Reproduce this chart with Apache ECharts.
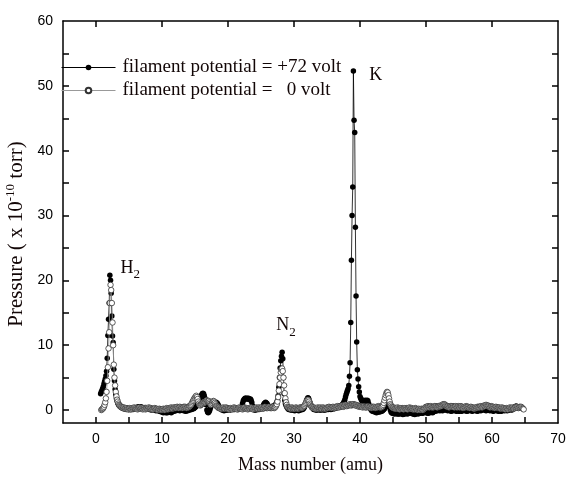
<!DOCTYPE html>
<html>
<head>
<meta charset="utf-8">
<script src="https://cdn.jsdelivr.net/npm/echarts@6/dist/echarts.min.js"></script>
<style>html,body{margin:0;padding:0;background:#fff}#c{width:566px;height:480px}</style>
</head>
<body>
<div id="c"></div>
<script>
// Mass spectrum (x in amu, y in 1e-10 torr), sampled every 0.1 amu
const step = 0.1;
const blackStart = 0.7; // filament potential = +72 volt
const blackVals = [
  2.5, 2.8, 3.0,
  3.3, 3.6, 4.0, 4.4, 4.8, 5.3, 6.0, 8.0, 11.5, 14.0,
  16.5, 20.8, 20.0, 18.0, 14.5, 11.4, 10.4, 6.3, 4.5, 3.2,
  2.4, 1.8, 1.4, 1.1, 0.9, 0.7, 0.6, 0.5, 0.4, 0.4,
  0.3, 0.3, 0.2, 0.3, 0.2, 0.2, 0.1, 0.2, 0.2, 0.1,
  0.1, 0.2, 0.1, 0.1, 0.2, 0.2, 0.1, 0.2, 0.3, 0.2,
  0.3, 0.4, 0.3, 0.4, 0.5, 0.4, 0.3, 0.4, 0.5, 0.4,
  0.3, 0.4, 0.3, 0.2, 0.3, 0.4, 0.3, 0.2, 0.3, 0.2,
  0.2, 0.1, 0.2, 0.1, 0.0, 0.1, 0.2, 0.1, 0.0, 0.1,
  0.0, -0.1, 0.0, 0.1, 0.0, -0.1, -0.2, -0.1, -0.2, -0.3,
  -0.2, -0.3, -0.4, -0.3, -0.2, -0.3, -0.4, -0.3, -0.4, -0.3,
  -0.2, -0.3, -0.2, -0.3, -0.4, -0.3, -0.2, -0.1, -0.2, -0.1,
  0.0, -0.1, 0.0, 0.1, 0.0, 0.1, 0.0, -0.1, 0.0, 0.1,
  0.0, 0.1, 0.0, -0.1, 0.0, -0.1, -0.2, -0.1, 0.0, -0.1,
  0.0, 0.1, 0.0, 0.1, 0.2, 0.1, 0.2, 0.3, 0.2, 0.3,
  0.4, 0.5, 0.6, 0.8, 0.9, 1.1, 1.4, 1.7, 1.9, 2.1,
  2.3, 2.5, 2.6, 2.5, 2.2, 1.8, 1.3, 0.8, 0.0, -0.3,
  -0.4, -0.3, -0.1, 0.2, 0.5, 0.8, 1.0, 1.1, 1.2, 1.1,
  1.2, 1.1, 1.2, 1.1, 1.0, 0.8, 0.6, 0.4, 0.3, 0.2,
  0.1, 0.0, 0.1, 0.0, -0.1, 0.0, 0.1, 0.0, 0.1, 0.0,
  0.1, 0.2, 0.1, 0.0, 0.1, 0.2, 0.1, 0.2, 0.1, 0.2,
  0.1, 0.2, 0.3, 0.2, 0.1, 0.2, 0.1, 0.2, 0.3, 0.2,
  0.3, 0.5, 1.0, 1.4, 1.6, 1.7, 1.8, 1.8, 1.7, 1.8,
  1.7, 1.8, 1.7, 1.6, 1.7, 1.5, 1.2, 0.7, 0.3, 0.1,
  0.0, 0.1, 0.0, 0.1, 0.2, 0.1, 0.2, 0.1, 0.2, 0.3,
  0.2, 0.3, 0.4, 0.6, 0.8, 1.0, 1.1, 1.2, 1.1, 1.0,
  0.8, 0.6, 0.5, 0.4, 0.5, 0.4, 0.5, 0.6, 0.5, 0.6,
  0.6, 0.7, 0.8, 1.0, 1.2, 1.5, 2.2, 3.5, 5.0, 6.5,
  7.6, 8.3, 8.9, 7.9, 5.0, 2.5, 1.5, 1.0, 0.7, 0.5,
  0.3, 0.2, 0.1, 0.2, 0.1, 0.0, 0.1, 0.0, 0.1, 0.0,
  0.0, -0.1, 0.0, 0.1, 0.0, 0.1, 0.0, -0.1, 0.0, 0.1,
  0.0, 0.1, 0.2, 0.1, 0.2, 0.3, 0.5, 0.8, 1.1, 1.5,
  1.7, 1.9, 1.8, 1.5, 1.2, 0.9, 0.6, 0.4, 0.3, 0.2,
  0.1, 0.2, 0.1, 0.0, 0.1, 0.0, 0.1, 0.2, 0.1, 0.0,
  0.1, 0.0, 0.1, 0.2, 0.1, 0.0, 0.1, 0.0, 0.1, 0.2,
  0.1, 0.2, 0.1, 0.2, 0.3, 0.2, 0.1, 0.2, 0.3, 0.2,
  0.3, 0.2, 0.3, 0.4, 0.3, 0.4, 0.5, 0.4, 0.5, 0.6,
  0.5, 0.6, 0.7, 0.8, 0.9, 1.1, 1.3, 1.6, 2.0, 2.4,
  2.7, 3.0, 3.3, 3.8, 5.2, 7.3, 13.5, 23.1, 30.0, 34.4,
  52.3, 44.7, 42.8, 28.2, 17.6, 10.5, 6.2, 4.8, 3.6, 2.8,
  2.1, 1.8, 1.6, 1.4, 1.5, 1.3, 1.2, 1.3, 1.5, 1.4,
  1.3, 1.5, 1.4, 1.0, 0.7, 0.4, 0.2, 0.0, -0.1, -0.2,
  -0.1, -0.2, -0.3, -0.2, -0.3, -0.4, -0.3, -0.2, -0.3, -0.2,
  -0.3, -0.2, -0.1, -0.2, -0.1, 0.0, 0.1, 0.2, 0.4, 0.6,
  0.9, 1.1, 1.3, 1.1, 0.8, 0.4, 0.0, -0.3, -0.4, -0.5,
  -0.4, -0.5, -0.6, -0.5, -0.4, -0.5, -0.6, -0.5, -0.6, -0.5,
  -0.6, -0.5, -0.4, -0.5, -0.6, -0.7, -0.6, -0.5, -0.6, -0.5,
  -0.4, -0.5, -0.6, -0.5, -0.4, -0.5, -0.4, -0.3, -0.4, -0.5,
  -0.6, -0.5, -0.6, -0.7, -0.6, -0.5, -0.4, -0.5, -0.6, -0.5,
  -0.4, -0.5, -0.4, -0.3, -0.4, -0.5, -0.4, -0.3, -0.2, -0.3,
  -0.4, -0.3, -0.4, -0.5, -0.4, -0.3, -0.4, -0.3, -0.2, -0.3,
  -0.4, -0.3, -0.2, -0.1, -0.2, -0.1, 0.0, -0.1, 0.0, 0.1,
  0.0, -0.1, 0.0, 0.1, 0.0, -0.1, 0.0, 0.1, 0.2, 0.1,
  0.0, 0.1, 0.0, -0.1, 0.0, 0.1, 0.0, -0.1, -0.2, -0.1,
  0.0, -0.1, 0.0, 0.1, 0.0, -0.1, -0.2, -0.1, 0.0, -0.1,
  -0.2, -0.1, 0.0, -0.1, -0.2, -0.1, 0.0, 0.1, 0.0, -0.1,
  0.0, -0.1, -0.2, -0.1, 0.0, -0.1, 0.0, 0.1, 0.0, -0.1,
  -0.2, -0.1, 0.0, 0.1, 0.0, -0.1, 0.0, -0.1, -0.2, -0.1,
  0.0, 0.1, 0.0, -0.1, 0.0, 0.1, 0.2, 0.1, 0.0, 0.1,
  0.0, -0.1, 0.0, 0.1, 0.2, 0.1, 0.0, -0.1, 0.0, 0.1,
  0.0, -0.1, -0.2, -0.1, 0.0, 0.1, 0.0, -0.1, 0.0, -0.1,
  -0.2, -0.1, 0.0, -0.1, -0.2, -0.1, 0.0, 0.1, 0.0, -0.1,
  0.0, 0.1, 0.0, -0.1, 0.0, 0.1, 0.0, 0.1, 0.2, 0.1,
  0.0, 0.1, 0.2, 0.3, 0.4, 0.5, 0.6, 0.6, 0.5, 0.4,
  0.3
];
const openStart = 0.8; // filament potential = 0 volt
const openVals = [
  0.0, 0.1,
  0.2, 0.3, 0.5, 0.8, 1.2, 1.8, 2.8, 4.5, 6.6, 9.5,
  12.0, 16.5, 19.3, 18.5, 16.5, 13.5, 10.0, 7.0, 5.0, 3.8,
  2.8, 2.1, 1.6, 1.3, 1.0, 0.8, 0.7, 0.6, 0.5, 0.4,
  0.4, 0.3, 0.4, 0.3, 0.2, 0.3, 0.2, 0.3, 0.2, 0.1,
  0.2, 0.3, 0.2, 0.1, 0.2, 0.3, 0.2, 0.3, 0.4, 0.3,
  0.2, 0.3, 0.2, 0.1, 0.2, 0.3, 0.4, 0.3, 0.2, 0.3,
  0.2, 0.1, 0.2, 0.3, 0.2, 0.1, 0.2, 0.3, 0.2, 0.3,
  0.4, 0.3, 0.2, 0.3, 0.2, 0.1, 0.2, 0.1, 0.2, 0.3,
  0.2, 0.1, 0.2, 0.1, 0.0, 0.1, 0.2, 0.1, 0.0, 0.1,
  0.0, 0.1, 0.2, 0.1, 0.0, 0.1, 0.2, 0.3, 0.2, 0.1,
  0.2, 0.3, 0.2, 0.3, 0.4, 0.3, 0.2, 0.3, 0.4, 0.3,
  0.4, 0.3, 0.4, 0.5, 0.4, 0.3, 0.4, 0.5, 0.4, 0.3,
  0.4, 0.3, 0.4, 0.5, 0.4, 0.5, 0.4, 0.3, 0.4, 0.5,
  0.4, 0.5, 0.6, 0.7, 0.8, 1.0, 1.2, 1.4, 1.6, 1.8,
  1.9, 2.1, 2.2, 2.0, 1.7, 1.3, 1.0, 0.8, 0.7, 0.8,
  0.9, 1.0, 1.1, 1.2, 1.1, 1.2, 1.3, 1.4, 1.5, 1.4,
  1.3, 1.4, 1.2, 1.0, 0.8, 0.9, 1.1, 1.3, 1.4, 1.3,
  1.1, 0.9, 0.7, 0.6, 0.5, 0.4, 0.3, 0.4, 0.3, 0.2,
  0.3, 0.2, 0.3, 0.4, 0.3, 0.2, 0.3, 0.4, 0.3, 0.2,
  0.3, 0.2, 0.1, 0.2, 0.3, 0.2, 0.1, 0.2, 0.3, 0.4,
  0.3, 0.2, 0.3, 0.2, 0.1, 0.2, 0.3, 0.4, 0.3, 0.2,
  0.3, 0.2, 0.1, 0.2, 0.3, 0.4, 0.3, 0.2, 0.3, 0.2,
  0.1, 0.2, 0.3, 0.2, 0.3, 0.4, 0.3, 0.2, 0.1, 0.2,
  0.3, 0.2, 0.3, 0.4, 0.3, 0.2, 0.3, 0.4, 0.3, 0.2,
  0.3, 0.4, 0.3, 0.2, 0.3, 0.4, 0.5, 0.4, 0.3, 0.4,
  0.3, 0.4, 0.5, 0.4, 0.3, 0.4, 0.3, 0.4, 0.5, 0.4,
  0.3, 0.4, 0.5, 0.7, 0.9, 1.3, 2.0, 3.0, 4.0, 5.0,
  5.8, 6.3, 6.4, 6.0, 5.0, 3.8, 2.6, 1.8, 1.2, 0.8,
  0.5, 0.4, 0.3, 0.4, 0.3, 0.2, 0.3, 0.4, 0.3, 0.2,
  0.3, 0.2, 0.3, 0.4, 0.3, 0.2, 0.3, 0.2, 0.3, 0.4,
  0.3, 0.4, 0.3, 0.4, 0.5, 0.6, 0.7, 0.9, 1.1, 1.3,
  1.5, 1.6, 1.5, 1.3, 1.0, 0.8, 0.6, 0.5, 0.4, 0.3,
  0.4, 0.3, 0.2, 0.3, 0.2, 0.3, 0.4, 0.3, 0.2, 0.3,
  0.4, 0.3, 0.2, 0.3, 0.4, 0.3, 0.2, 0.3, 0.2, 0.3,
  0.4, 0.3, 0.4, 0.5, 0.4, 0.3, 0.4, 0.3, 0.4, 0.5,
  0.4, 0.3, 0.4, 0.5, 0.4, 0.5, 0.6, 0.5, 0.4, 0.5,
  0.6, 0.5, 0.6, 0.7, 0.6, 0.5, 0.6, 0.7, 0.8, 0.7,
  0.6, 0.7, 0.8, 0.7, 0.8, 0.9, 0.8, 0.7, 0.8, 0.9,
  0.8, 0.9, 0.8, 0.7, 0.8, 0.7, 0.6, 0.7, 0.6, 0.5,
  0.6, 0.5, 0.6, 0.5, 0.4, 0.5, 0.6, 0.5, 0.4, 0.5,
  0.4, 0.5, 0.6, 0.5, 0.4, 0.5, 0.4, 0.3, 0.4, 0.5,
  0.4, 0.5, 0.4, 0.3, 0.4, 0.5, 0.4, 0.5, 0.6, 0.5,
  0.4, 0.5, 0.4, 0.5, 0.6, 0.8, 1.1, 1.5, 1.9, 2.3,
  2.6, 2.8, 2.7, 2.3, 1.8, 1.3, 0.9, 0.7, 0.5, 0.4,
  0.3, 0.4, 0.3, 0.2, 0.3, 0.2, 0.3, 0.4, 0.3, 0.2,
  0.1, 0.2, 0.3, 0.2, 0.3, 0.2, 0.1, 0.2, 0.3, 0.2,
  0.3, 0.2, 0.1, 0.2, 0.3, 0.4, 0.3, 0.2, 0.3, 0.2,
  0.1, 0.2, 0.1, 0.2, 0.3, 0.2, 0.1, 0.0, 0.1, 0.2,
  0.1, 0.0, 0.1, 0.2, 0.1, 0.0, 0.1, 0.2, 0.3, 0.4,
  0.5, 0.4, 0.5, 0.6, 0.5, 0.4, 0.5, 0.6, 0.5, 0.4,
  0.5, 0.4, 0.5, 0.6, 0.5, 0.6, 0.5, 0.4, 0.5, 0.6,
  0.5, 0.6, 0.7, 0.6, 0.7, 0.8, 0.9, 0.8, 0.9, 0.8,
  0.7, 0.6, 0.5, 0.6, 0.5, 0.4, 0.5, 0.6, 0.5, 0.6,
  0.5, 0.6, 0.5, 0.4, 0.5, 0.6, 0.5, 0.4, 0.5, 0.6,
  0.5, 0.4, 0.5, 0.6, 0.5, 0.4, 0.3, 0.4, 0.5, 0.4,
  0.5, 0.6, 0.5, 0.4, 0.5, 0.4, 0.3, 0.4, 0.5, 0.4,
  0.3, 0.4, 0.3, 0.2, 0.3, 0.4, 0.3, 0.4, 0.5, 0.4,
  0.5, 0.4, 0.5, 0.6, 0.5, 0.4, 0.5, 0.6, 0.7, 0.6,
  0.7, 0.8, 0.7, 0.6, 0.7, 0.6, 0.5, 0.4, 0.5, 0.6,
  0.5, 0.4, 0.5, 0.4, 0.3, 0.4, 0.5, 0.4, 0.3, 0.4,
  0.3, 0.4, 0.3, 0.2, 0.3, 0.4, 0.3, 0.2, 0.3, 0.2,
  0.1, 0.2, 0.3, 0.2, 0.1, 0.2, 0.3, 0.4, 0.3, 0.2,
  0.3, 0.4, 0.3, 0.2, 0.3, 0.4, 0.5, 0.4, 0.5, 0.4,
  0.3, 0.4, 0.5, 0.4, 0.5, 0.4, 0.3, 0.2, 0.1
];
const seriesNames = ['filament potential = +72 volt', 'filament potential =   0 volt'];
const xTicks = [0, 5, 10, 15, 20, 25, 30, 35, 40, 45, 50, 55, 60, 65];
const xLabels = [0, 10, 20, 30, 40, 50, 60, 70];
const xTopTicks = [0, 10, 20, 30, 40, 50, 60];
const yTicks = [0, 5, 10, 15, 20, 25, 30, 35, 40, 45, 50, 55];
const yLabels = [0, 10, 20, 30, 40, 50, 60];
// peak annotations (anchored in data coordinates)
const peakNames = ['H', 'N', 'K'];
const peakSubs = ['2', '2', ''];
const peakX = [3.7, 27.3, 41.4];
const peakY = [21.9, 13.1, 51.7];

const toPairs = (start, vals) => vals.map((v, i) => [+(start + i * step).toFixed(2), v]);

const serif = 'Liberation Serif';
const sans = 'Liberation Sans';
const txt = '#120606';
const axisLine = { show: true, onZero: false, lineStyle: { color: '#000', width: 1.5 } };
const tickStyle = { color: '#000', width: 1.5 };

const chart = echarts.init(document.getElementById('c'), null, { renderer: 'canvas' });
chart.setOption({
  animation: false,
  backgroundColor: '#fff',
  grid: { left: 63, right: 8, top: 21, bottom: 57, outerBoundsMode: 'none', containLabel: false },
  legend: {
    orient: 'vertical', left: 61, top: 58, itemWidth: 54, itemHeight: 7, itemGap: 4,
    padding: 0,
    lineStyle: { width: 1 },
    textStyle: { fontFamily: serif, fontSize: 19, color: txt, padding: [0, 0, 0, 2] },
    data: seriesNames
  },
  xAxis: [
    {
      type: 'value', min: -5, max: 70, position: 'bottom',
      name: 'Mass number (amu)', nameLocation: 'middle', nameGap: 33,
      nameTextStyle: { fontFamily: serif, fontSize: 18, color: txt },
      axisLine: axisLine,
      axisTick: { show: true, inside: true, length: 6, customValues: xTicks, lineStyle: tickStyle },
      axisLabel: { customValues: xLabels, fontFamily: sans, fontSize: 14, color: '#000', margin: 9 },
      splitLine: { show: false }
    },
    {
      type: 'value', min: -5, max: 70, position: 'top',
      axisLine: axisLine,
      axisTick: { show: true, inside: true, length: 6, customValues: xTopTicks, lineStyle: tickStyle },
      axisLabel: { show: false },
      splitLine: { show: false }
    }
  ],
  yAxis: [
    {
      type: 'value', min: -2, max: 60, position: 'left',
      name: 'Pressure ( x 10{sup|-10} torr)', nameLocation: 'middle', nameGap: 27,
      nameTextStyle: {
        fontFamily: serif, fontSize: 21, color: txt, padding: [0, 24, 0, 0],
        rich: { sup: { fontFamily: serif, fontSize: 13, color: txt, padding: [0, 0, 10, 0] } }
      },
      axisLine: axisLine,
      axisTick: { show: true, inside: true, length: 6, customValues: yTicks, lineStyle: tickStyle },
      axisLabel: { customValues: yLabels, fontFamily: sans, fontSize: 14, color: '#000', margin: 10 },
      splitLine: { show: false }
    },
    {
      type: 'value', min: -2, max: 60, position: 'right',
      axisLine: axisLine,
      axisTick: { show: true, inside: true, length: 6, customValues: yTicks, lineStyle: tickStyle },
      axisLabel: { show: false },
      splitLine: { show: false }
    }
  ],
  series: [
    {
      name: seriesNames[0], type: 'line', xAxisIndex: 0, yAxisIndex: 0,
      data: toPairs(blackStart, blackVals),
      symbol: 'circle', symbolSize: 5.5, showSymbol: true, showAllSymbol: true,
      itemStyle: { color: '#000' },
      lineStyle: { color: '#000', width: 0.8 },
      z: 2
    },
    {
      name: seriesNames[1], type: 'line', xAxisIndex: 0, yAxisIndex: 0,
      data: toPairs(openStart, openVals),
      symbol: 'circle', symbolSize: 5.5, showSymbol: true, showAllSymbol: true,
      itemStyle: { color: '#fff', borderColor: '#333', borderWidth: 0.8 },
      lineStyle: { color: '#999', width: 0.8 },
      z: 3
    },
    {
      type: 'scatter', xAxisIndex: 0, yAxisIndex: 0, symbolSize: 0, silent: true,
      itemStyle: { opacity: 1 },
      data: peakNames.map((n, i) => ({ value: [peakX[i], peakY[i]], name: n, sub: peakSubs[i] })),
      label: {
        show: true, position: 'right', distance: 0, opacity: 1,
        formatter: (p) => '{m|' + p.data.name + '}' + (p.data.sub ? '{s|' + p.data.sub + '}' : ''),
        rich: {
          m: { fontFamily: serif, fontSize: 18, color: txt },
          s: { fontFamily: serif, fontSize: 13, color: txt, padding: [14, 0, 0, 0] }
        }
      },
      z: 4
    }
  ]
});
</script>
</body>
</html>
